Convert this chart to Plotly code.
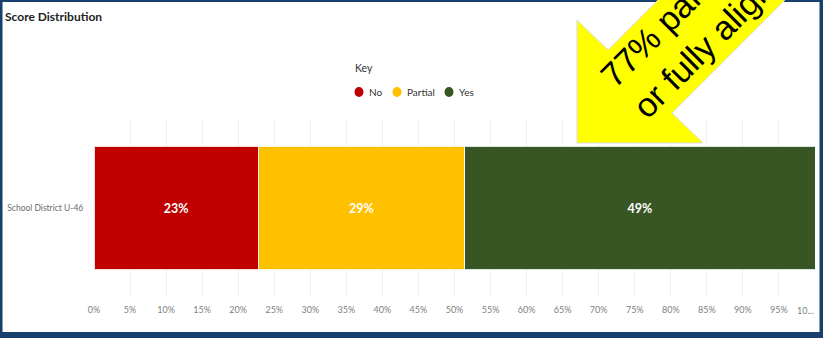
import plotly.graph_objects as go

# ---------------- data ----------------
CATEGORY = "School District U-46"
SERIES = ["No", "Partial", "Yes"]
VALUES = [22.8, 28.6, 48.6]
BAR_LABELS = ["23%", "29%", "49%"]
COLORS = ["#C00000", "#FFC000", "#375623"]
TICK_VALS = [0, 5, 10, 15, 20, 25, 30, 35, 40, 45, 50, 55, 60, 65, 70, 75, 80, 85, 90, 95, 100]
TICK_TEXT = ["0%", "5%", "10%", "15%", "20%", "25%", "30%", "35%", "40%", "45%", "50%",
             "55%", "60%", "65%", "70%", "75%", "80%", "85%", "90%", "95%", ""]
LAST_TICK_TEXT = "10..."
TITLE = "Score Distribution"
LEGEND_TITLE = "Key"
CALLOUT_LINES = ["77% partially", "or fully aligned"]

# ---------------- layout helpers ----------------
W, H = 823, 338
L, R, T, B = 94, 8, 120, 42
PW, PH = W - L - R, H - T - B


def px(x):
    return (x - L) / PW


def py(y):
    return (H - B - y) / PH


FONT = "Lato, Roboto, sans-serif"
NAVY = "#17406D"

fig = go.Figure()
for name, val, lab, col in zip(SERIES, VALUES, BAR_LABELS, COLORS):
    fig.add_trace(go.Bar(
        y=[CATEGORY], x=[val], name=name, orientation="h",
        marker=dict(color=col, line=dict(color="rgba(255,255,255,0.85)", width=1)),
        text=[lab], textposition="inside", insidetextanchor="middle",
        textfont=dict(family=FONT, size=12.5, color="white", weight="bold"),
        hoverinfo="skip", showlegend=False,
    ))

shapes = []
# navy frame
for x0, y0, x1, y1 in [(0, 0, 2.5, H), (0, 0, W, 2), (819.5, 0, W, H), (0, 332, W, H)]:
    shapes.append(dict(type="rect", xref="paper", yref="paper",
                       x0=px(x0), x1=px(x1), y0=py(y0), y1=py(y1),
                       fillcolor=NAVY, line=dict(width=0), layer="above"))

# yellow callout arrow
pts = [(577, 20), (608, 50), (680, -22), (807, -22), (672, 113), (703, 143), (577, 143)]
path = "M " + " L ".join(f"{px(x):.5f},{py(y):.5f}" for x, y in pts) + " Z"
shapes.append(dict(type="path", xref="paper", yref="paper", path=path,
                   fillcolor="#FFFF00", line=dict(color="#dcdcdc", width=1), layer="above"))

# legend dots
legend_dot_x = [359, 397, 449]
legend_text_x = [367, 405, 457]
for cx, col in zip(legend_dot_x, COLORS):
    shapes.append(dict(type="circle", xref="paper", yref="paper",
                       xsizemode="pixel", ysizemode="pixel",
                       xanchor=px(cx), yanchor=py(92),
                       x0=-4.5, x1=4.5, y0=-5, y1=5,
                       fillcolor=col, line=dict(width=0), layer="above"))

annotations = [
    dict(text=LEGEND_TITLE, xref="paper", yref="paper", x=px(353), y=py(68),
         xanchor="left", yanchor="middle", showarrow=False,
         font=dict(family=FONT, size=10.5, color="#333333")),
    # truncated last tick label, nudged left like the reference
    dict(text=LAST_TICK_TEXT, xref="x", yref="paper", x=TICK_VALS[-1], y=py(310),
         xanchor="center", yanchor="middle", xshift=-10, showarrow=False,
         font=dict(family=FONT, size=9, color="#808080")),
]
for tx, name in zip(legend_text_x, SERIES):
    annotations.append(dict(text=name, xref="paper", yref="paper", x=px(tx), y=py(92),
                            xanchor="left", yanchor="middle", showarrow=False,
                            font=dict(family=FONT, size=10, color="#333333")))

# callout text lines
callout_pos = [(590, 97), (623, 128)]
for (ax, ay), line in zip(callout_pos, CALLOUT_LINES):
    annotations.append(dict(text=line, xref="paper", yref="paper", x=px(ax), y=py(ay),
                            xanchor="left", yanchor="bottom", showarrow=False,
                            textangle=-45,
                            font=dict(family="Liberation Sans, Arial, sans-serif", size=34, color="black")))

fig.update_layout(
    width=W, height=H,
    margin=dict(l=L, r=R, t=T, b=B, autoexpand=False),
    paper_bgcolor="white", plot_bgcolor="white",
    barmode="stack", bargap=0.3,
    title=dict(text=TITLE, x=5 / W, xanchor="left", y=1 - 17 / H, yanchor="middle",
               xref="container", yref="container",
               font=dict(family=FONT, size=12, color="#222222", weight="bold")),
    xaxis=dict(range=[0, 100], tickvals=TICK_VALS, ticktext=TICK_TEXT,
               showgrid=True, gridcolor="#ECEFF3", gridwidth=1, zeroline=False,
               showline=False, ticks="outside", ticklen=5, tickcolor="rgba(0,0,0,0)",
               tickfont=dict(family=FONT, size=9, color="#808080"), fixedrange=True),
    yaxis=dict(showgrid=False, zeroline=False, showline=False,
               ticks="outside", ticklen=8, tickcolor="rgba(0,0,0,0)",
               tickfont=dict(family=FONT, size=8.5, color="#6b6b6b"), fixedrange=True),
    shapes=shapes, annotations=annotations,
    showlegend=False,
)

fig.write_html("out.html")
